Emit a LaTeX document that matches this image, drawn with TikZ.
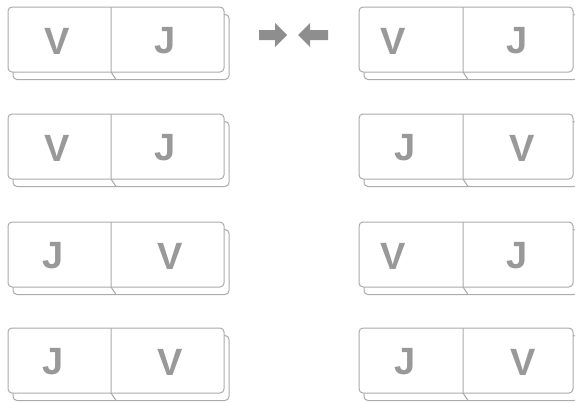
\documentclass[tikz,border=0pt]{standalone}
\usepackage{fontspec}
\setmainfont{Liberation Sans}
\definecolor{linegray}{HTML}{ABABAB}
\definecolor{lettergray}{HTML}{999999}
\definecolor{arrowgray}{HTML}{8E8E8E}
\begin{document}
\begin{tikzpicture}[x=1pt,y=-1pt,
  plate/.style={draw=linegray, line width=1pt, rounded corners=4pt, fill=white},
  divider/.style={draw=linegray, line width=1pt},
  letter/.style={text=lettergray, inner sep=0pt,
    font=\fontsize{38}{38}\selectfont\bfseries},
  pointer/.style={fill=arrowgray}]
\useasboundingbox (0,0) rectangle (575,402);
% tiles: name / left / top / width / divider / first letter / its x / second letter / its x
\foreach \n/\x/\y/\w/\d/\a/\ax/\b/\bx in {
  la/8/7/216/111/V/57/J/165,
  lb/8/114/216/111/V/57/J/165,
  lc/8/222/216/111/J/53/V/170,
  ld/8/328/216/111/J/53/V/170,
  ra/359/7/214/463/V/393/J/517,
  rb/359/114/214/463/J/405/V/522,
  rc/359/222/214/463/V/393/J/517,
  rd/359/328/214/463/J/405/V/523}{
  % lower slab, shifted down and right
  \draw[plate] (\x+5,\y+7.5) rectangle ++(\w,65);
  % upper face
  \draw[plate] (\x,\y) rectangle ++(\w,65);
  \coordinate (\n-top) at (\d,\y);
  \coordinate (\n-bot) at (\d,\y+65);
  \coordinate (\n-slab) at (\d+5,\y+72.5);
  \draw[divider] (\n-top) -- (\n-bot) -- (\n-slab);
  \node[letter] (\n-1) at (\ax,\y+34) {\a};
  \node[letter] (\n-2) at (\bx,\y+34) {\b};
}
% converging arrows
\fill[pointer] (259,30) -- (275,30) -- (275,23) -- (287,35)
  -- (275,47) -- (275,40) -- (259,40) -- cycle;
\fill[pointer] (328,30) -- (310,30) -- (310,23) -- (298,35)
  -- (310,47) -- (310,40) -- (328,40) -- cycle;
\end{tikzpicture}
\end{document}
